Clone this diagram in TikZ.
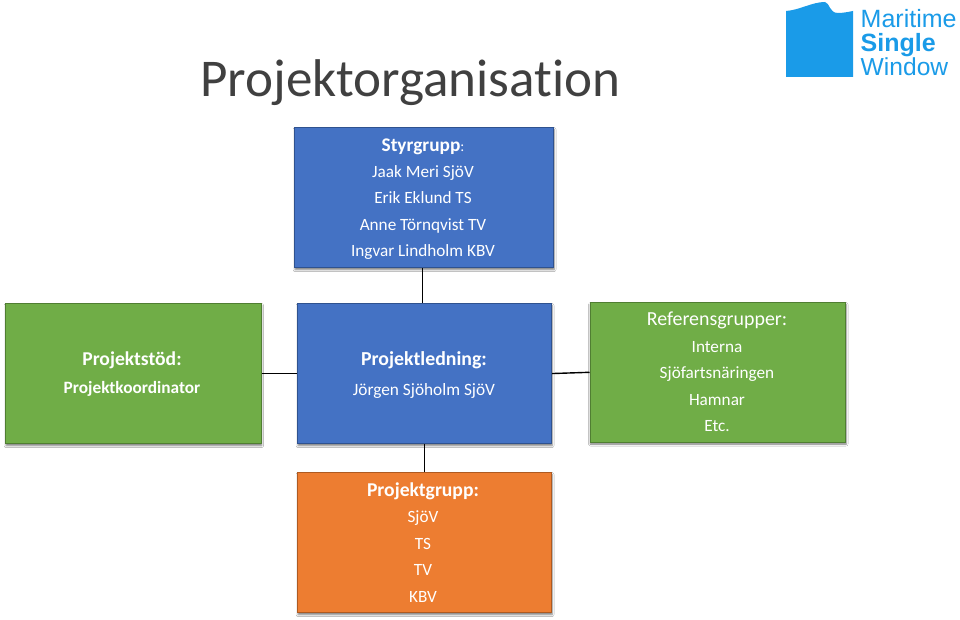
\documentclass[tikz,border=0pt]{standalone}
\usepackage{fontspec}
\setmainfont{Carlito}[Ligatures=NoCommon]
\newfontfamily\logofont{Liberation Sans}
\usetikzlibrary{shadows.blur}
\definecolor{boxblue}{HTML}{4472C4}
\definecolor{boxblueline}{HTML}{2F528F}
\definecolor{boxgreen}{HTML}{70AD47}
\definecolor{boxgreenline}{HTML}{507E32}
\definecolor{boxorange}{HTML}{ED7D31}
\definecolor{boxorangeline}{HTML}{AE5A21}
\definecolor{logoblue}{HTML}{1A9BE8}
\definecolor{titlegray}{HTML}{404040}
\tikzset{
  x=1pt,y=-1pt,
  boxbase/.style={anchor=north west,inner sep=0pt,line width=1.1pt,
    blur shadow={shadow xshift=0.5pt,shadow yshift=-2pt,shadow blur radius=2pt,shadow opacity=55}},
  bluebox/.style={boxbase,fill=boxblue,draw=boxblueline},
  greenbox/.style={boxbase,fill=boxgreen,draw=boxgreenline},
  orangebox/.style={boxbase,fill=boxorange,draw=boxorangeline},
  boxtext/.style={inner sep=0pt,align=center,text=white,font=\fontsize{17.2}{26.4}\selectfont},
  link/.style={draw=black,line width=1.4pt},
  logotext/.style={anchor=base west,inner sep=0pt,text=logoblue},
}
\begin{document}
\begin{tikzpicture}
\useasboundingbox (0,0) rectangle (960,620);
\fill[white] (0,0) rectangle (960,620);
% boxes
\node[bluebox,minimum width=259pt,minimum height=140pt] (sty) at (294,127) {};
\node[greenbox,minimum width=255.5pt,minimum height=140pt] (stod) at (5,303) {};
\node[bluebox,minimum width=254pt,minimum height=140pt] (led) at (297,303) {};
\node[greenbox,minimum width=255.5pt,minimum height=139.5pt] (ref) at (589.5,302) {};
\node[orangebox,minimum width=254pt,minimum height=140pt] (grp) at (297,472) {};
% connectors
\draw[link] ([xshift=-1.5pt]sty.south) -- ([xshift=-2pt]led.north);
\draw[link] (stod.east) -- (led.west);
\draw[link] (led.east) -- (ref.west);
\draw[link] (led.south) -- (grp.north);
% title
\node[anchor=base west,inner sep=0pt,text=titlegray,font=\fontsize{53.1}{60}\selectfont] (title) at (200,97) {Projektorganisation};
% texts
\node[boxtext] (t1) at (423,199) {{\fontsize{19.3}{26.4}\selectfont\bfseries Styrgrupp}{\fontsize{15}{26.4}\selectfont :}\\Jaak Meri SjöV\\Erik Eklund TS\\Anne Törnqvist TV\\Ingvar Lindholm KBV};
\node[boxtext,font=\fontsize{17.3}{28}\selectfont\bfseries] (t2) at (132,374) {{\fontsize{19.6}{28}\selectfont Projektstöd:}\\Projektkoordinator};
\node[boxtext,font=\fontsize{17.3}{30}\selectfont] (t3) at (424,375) {{\fontsize{19.8}{30}\selectfont\bfseries Projektledning:}\\Jörgen Sjöholm SjöV};
\node[boxtext] (t4) at (717,372) {{\fontsize{19.9}{26.4}\selectfont Referensgrupper:}\\Interna\\Sjöfartsnäringen\\Hamnar\\Etc.};
\node[boxtext] (t5) at (423,542.5) {{\fontsize{19.6}{26.4}\selectfont\bfseries Projektgrupp:}\\SjöV\\TS\\TV\\KBV};
% logo
\fill[logoblue] (786,11) .. controls (800,10) and (812,2) .. (825,2) .. controls (830,3) and (829,13) .. (838,13) .. controls (843,13) and (848,12) .. (853,11) -- (853,77) -- (786,77) -- cycle;
\node[logotext,font=\logofont\fontsize{25}{26}\selectfont] (lm) at (860.5,28) {Maritime};
\node[logotext,font=\logofont\bfseries\fontsize{25}{26}\selectfont] (ls) at (860.5,52) {Single};
\node[logotext,font=\logofont\fontsize{24.6}{26}\selectfont] (lw) at (860.5,76) {Window};
\end{tikzpicture}
\end{document}
